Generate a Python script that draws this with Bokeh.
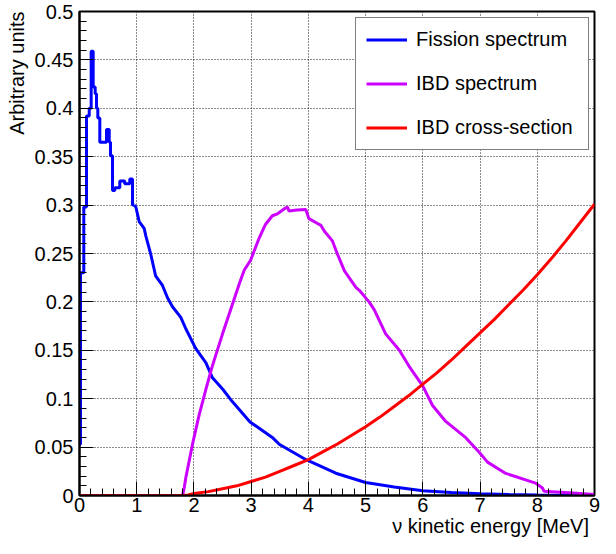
import numpy as np
from bokeh.plotting import figure
from bokeh.models import FixedTicker, Legend, LegendItem, Range1d, Title
from bokeh.embed import file_html
from bokeh.resources import INLINE

# ---------------- data ----------------
# Fission spectrum: fine-binned step part at low energy
fission_step_x = [0.0, 0.017, 0.075, 0.122, 0.170, 0.204, 0.239, 0.274, 0.297, 0.320,
                  0.355, 0.472, 0.519, 0.542, 0.577, 0.617, 0.704, 0.790, 0.879, 0.926, 0.960]
fission_step_y = [0.053, 0.230, 0.298, 0.392, 0.400, 0.459, 0.422, 0.415, 0.400, 0.390,
                  0.365, 0.378, 0.365, 0.351, 0.315, 0.318, 0.325, 0.322, 0.327, 0.300, 0.300]
# Fission spectrum: smooth tail
fission_x = [0.960, 0.985, 1.043, 1.13, 1.16, 1.246, 1.33, 1.45, 1.54, 1.625, 1.77, 1.86,
             2.03, 2.21, 2.32, 2.50, 2.67, 2.98, 3.37, 3.49, 3.96, 4.48, 5.0, 5.5, 6.0,
             6.5, 7.0, 7.5, 8.0, 8.5, 9.0]
fission_y = [0.300, 0.298, 0.283, 0.276, 0.268, 0.249, 0.227, 0.217, 0.204, 0.195, 0.184, 0.172,
             0.152, 0.137, 0.122, 0.110, 0.097, 0.076, 0.060, 0.053, 0.037, 0.023, 0.0134, 0.0088, 0.005,
             0.003, 0.0017, 0.001, 0.0005, 0.0002, 0.0]

# IBD spectrum
ibd_x = [0.0, 1.80, 1.83, 1.86, 1.975, 2.09, 2.21, 2.32, 2.50, 2.67, 2.80, 2.88, 2.99, 3.14,
         3.25, 3.37, 3.46, 3.60, 3.635, 3.66, 3.80, 3.955, 4.01, 4.16, 4.22, 4.28, 4.42, 4.51,
         4.63, 4.83, 4.89, 5.06, 5.15, 5.35, 5.59, 5.76, 6.0, 6.17, 6.40, 6.75, 6.985, 7.13,
         7.45, 7.97, 8.09, 8.12, 8.62, 9.0]
ibd_y = [0.0, 0.0, 0.008, 0.019, 0.053, 0.083, 0.110, 0.1335, 0.167, 0.197, 0.220, 0.233, 0.243, 0.266,
         0.280, 0.289, 0.291, 0.297, 0.298, 0.294, 0.295, 0.2955, 0.286, 0.281, 0.279, 0.273, 0.263, 0.249,
         0.232, 0.215, 0.212, 0.200, 0.192, 0.167, 0.150, 0.1335, 0.113, 0.093, 0.0765, 0.0597, 0.0446, 0.0345,
         0.0228, 0.0128, 0.0077, 0.0043, 0.0027, 0.001]

# IBD cross-section
xsec_x = [0.0, 1.8, 1.9, 2.0, 2.25, 2.5, 2.75, 3.0, 3.25, 3.5, 3.75, 4.0, 4.25, 4.5, 4.75, 5.0,
          5.25, 5.5, 5.75, 6.0, 6.25, 6.5, 6.75, 7.0, 7.25, 7.5, 7.75, 8.0, 8.25, 8.5, 8.75, 9.0]
xsec_y = [0.0, 0.0, 0.0005, 0.002, 0.004, 0.007, 0.010, 0.0145, 0.019, 0.025, 0.031, 0.037, 0.045,
          0.053, 0.062, 0.071, 0.081, 0.092, 0.103, 0.115, 0.127, 0.140, 0.154, 0.168, 0.182, 0.197,
          0.212, 0.228, 0.245, 0.263, 0.282, 0.301]

series_labels = ["Fission spectrum", "IBD spectrum", "IBD cross-section"]
series_colors = ["#0000ff", "#cc00ff", "#ff0000"]

x_ticks = [0, 1, 2, 3, 4, 5, 6, 7, 8, 9]
x_tick_labels = ["0", "1", "2", "3", "4", "5", "6", "7", "8", "9"]
y_ticks = [0, 0.05, 0.1, 0.15, 0.2, 0.25, 0.3, 0.35, 0.4, 0.45, 0.5]
y_tick_labels = ["0", "0.05", "0.1", "0.15", "0.2", "0.25", "0.3", "0.35", "0.4", "0.45", "0.5"]

x_title = "\u03bd kinetic energy  [MeV]"
y_title = "Arbitrary units"

FONT = "Liberation Sans"

# ---------------- figure ----------------
p = figure(width=600, height=538, output_backend="svg", toolbar_location=None,
           x_range=Range1d(0, 9), y_range=Range1d(0, 0.5),
           min_border_left=79, min_border_right=6, min_border_top=11, min_border_bottom=43)

p.background_fill_color = "white"
p.border_fill_color = "white"
p.outline_line_color = "black"
p.outline_line_width = 2

x_minor = [round(v, 3) for v in np.arange(0, 9.0001, 0.2)]
y_minor = [round(v, 3) for v in np.arange(0, 0.50001, 0.01)]

xax = p.below[0]
yax = p.left[0]
xax.ticker = FixedTicker(ticks=x_ticks, minor_ticks=x_minor)
yax.ticker = FixedTicker(ticks=y_ticks, minor_ticks=y_minor)
xax.major_label_overrides = {t: l for t, l in zip(x_ticks, x_tick_labels)}
yax.major_label_overrides = {t: l for t, l in zip(y_ticks, y_tick_labels)}

for ax in (xax, yax):
    ax.major_tick_in = 14
    ax.major_tick_out = 0
    ax.minor_tick_in = 7
    ax.minor_tick_out = 0
    ax.axis_line_color = "black"
    ax.axis_line_width = 2
    ax.major_tick_line_color = "black"
    ax.minor_tick_line_color = "black"
    ax.major_tick_line_width = 1
    ax.minor_tick_line_width = 1
    ax.major_label_text_font = FONT
    ax.major_label_text_font_size = "20px"
    ax.major_label_text_color = "black"

xax.major_label_standoff = 2
yax.major_label_standoff = 6

# ROOT style axis titles, aligned with the end of each axis
xt = Title(text=x_title, align="right", text_font=FONT, text_font_size="20px",
           text_font_style="normal", text_color="black", standoff=-4, offset=0)
yt = Title(text=y_title, align="right", text_font=FONT, text_font_size="20px",
           text_font_style="normal", text_color="black", standoff=7, offset=0)
p.add_layout(xt, "below")
p.add_layout(yt, "left")

p.xgrid.ticker = FixedTicker(ticks=x_ticks)
p.ygrid.ticker = FixedTicker(ticks=y_ticks)
for g in (p.xgrid, p.ygrid):
    g.grid_line_color = "black"
    g.grid_line_dash = "1 2"
    g.grid_line_width = 1
    g.grid_line_alpha = 0.9

# ---------------- curves ----------------
r_f1 = p.step(x=fission_step_x, y=fission_step_y, mode="after",
              line_color=series_colors[0], line_width=3)
r_f2 = p.line(x=fission_x, y=fission_y, line_color=series_colors[0], line_width=3)
r_ibd = p.line(x=ibd_x, y=ibd_y, line_color=series_colors[1], line_width=3)
r_xs = p.line(x=xsec_x, y=xsec_y, line_color=series_colors[2], line_width=3)

legend = Legend(items=[
    LegendItem(label=series_labels[0], renderers=[r_f2]),
    LegendItem(label=series_labels[1], renderers=[r_ibd]),
    LegendItem(label=series_labels[2], renderers=[r_xs]),
], location=(276, 345))
legend.margin = 0
legend.padding = 10
legend.spacing = 21
legend.glyph_width = 41
legend.glyph_height = 23
legend.label_height = 23
legend.label_width = 162
legend.label_standoff = 9
legend.label_text_font = FONT
legend.label_text_font_size = "20px"
legend.label_text_color = "black"
legend.border_line_color = "black"
legend.border_line_width = 1
legend.background_fill_color = "white"
legend.background_fill_alpha = 1.0
p.add_layout(legend)

open("out.html", "w").write(file_html(p, INLINE))
